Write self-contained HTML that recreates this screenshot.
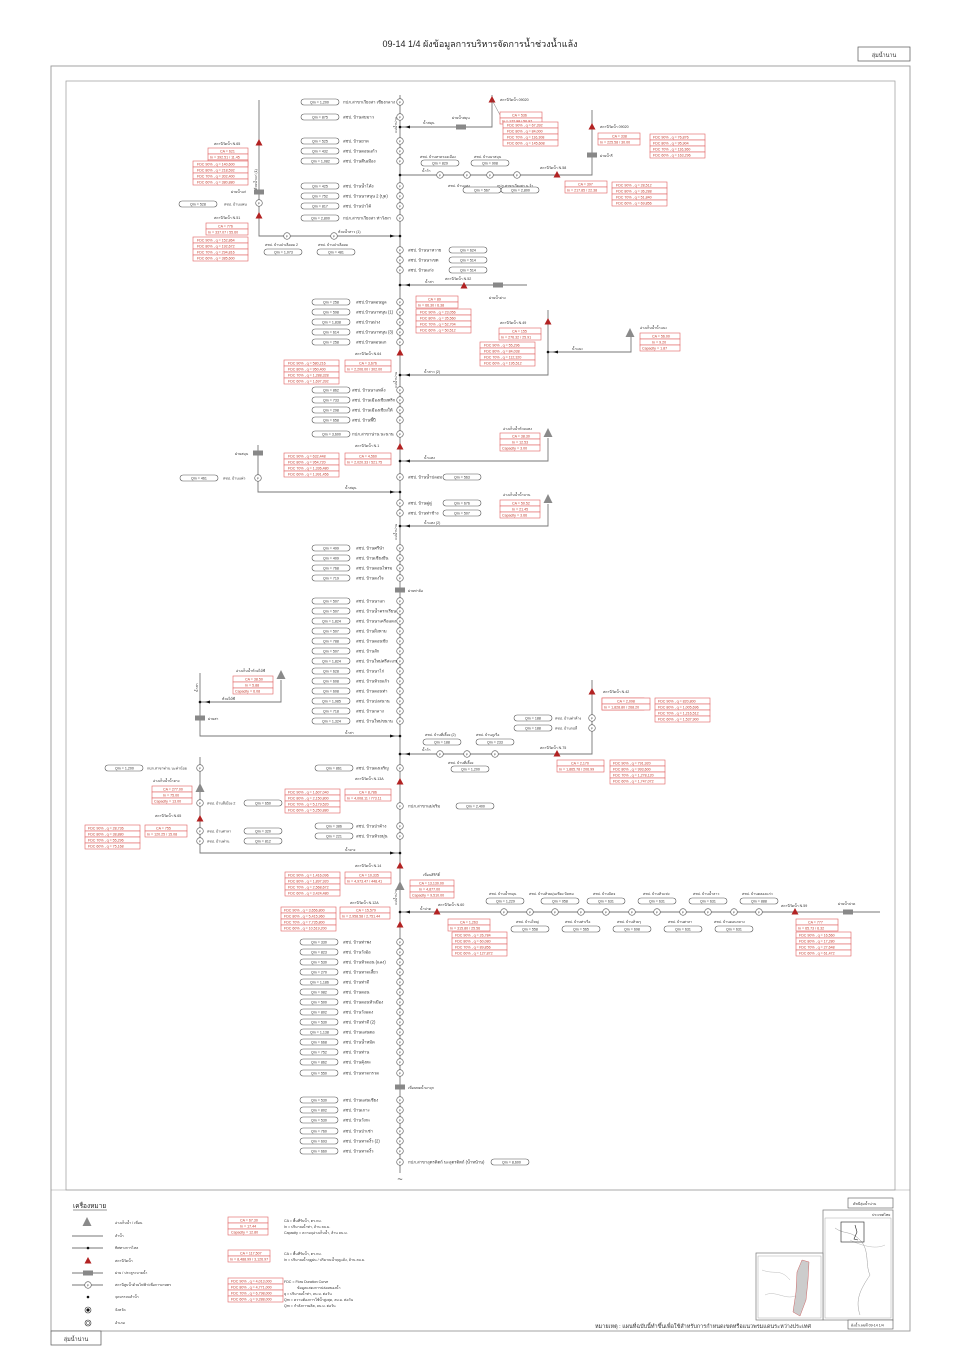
<!DOCTYPE html>
<html><head><meta charset="utf-8">
<style>
html,body{margin:0;padding:0;background:#fff}
svg{display:block}
text{font-family:"Liberation Sans","DejaVu Sans","Noto Sans CJK SC",sans-serif;fill:#333}
.t{font-size:4.2px}
.s{font-size:3.6px}
.r{font-size:3.6px;fill:#c0392b}
.ln{stroke:#777;stroke-width:0.9;fill:none}
.bx{fill:#fff;stroke:#555;stroke-width:0.6}
.rb{fill:#fff;stroke:#e06060;stroke-width:0.6}
.c{fill:#fff;stroke:#555;stroke-width:0.6}
.g{fill:#888}
.tr{fill:#b22222}
.gt{fill:#888}
</style></head><body>
<svg width="960" height="1357" viewBox="0 0 960 1357" xmlns="http://www.w3.org/2000/svg">
<defs>
<g id="q"><rect class="bx" x="-19" y="-3" width="38" height="6" rx="3"/></g>
<g id="p"><circle class="c" r="3.3"/><text class="s" x="-1.1" y="1.3" style="font-size:3px">P</text></g>
<g id="rt"><polygon class="tr" points="0,-4 3.5,2.5 -3.5,2.5"/></g>
<g id="gtri"><polygon fill="#8a8a8a" points="0,-5 4.5,4 -4.5,4"/></g>
<g id="gate"><rect class="gt" x="-5" y="-2.5" width="10" height="5"/></g>
<g id="dot"><circle r="1.3" fill="#111"/></g>
<g id="fdc"><rect class="rb" x="0" y="0" width="55" height="6"/><rect class="rb" x="0" y="6" width="55" height="6"/><rect class="rb" x="0" y="12" width="55" height="6"/><rect class="rb" x="0" y="18" width="55" height="6"/></g>
<g id="ca2"><rect class="rb" x="0" y="0" width="42" height="6"/><rect class="rb" x="0" y="6" width="42" height="6"/></g>
<g id="ca3"><rect class="rb" x="0" y="0" width="40" height="6"/><rect class="rb" x="0" y="6" width="40" height="6"/><rect class="rb" x="0" y="12" width="40" height="6"/></g>
</defs>

<!-- title -->
<text x="480" y="47" text-anchor="middle" style="font-size:9px;fill:#222">09-14 1/4 ผังข้อมูลการบริหารจัดการน้ำช่วงน้ำแล้ง</text>
<rect x="858" y="47" width="52" height="14" fill="#fff" stroke="#555" stroke-width="0.7"/>
<text x="884" y="57" text-anchor="middle" style="font-size:5.5px">ลุ่มน้ำนาน</text>

<!-- frames -->
<rect x="51" y="66" width="859" height="1265" fill="none" stroke="#999" stroke-width="0.9"/>
<rect x="66" y="81" width="829" height="1109" fill="none" stroke="#999" stroke-width="0.7"/>
<line x1="51" y1="1190" x2="910" y2="1190" stroke="#999" stroke-width="0.6"/>

<!-- main river -->
<line class="ln" x1="400" y1="95" x2="400" y2="1173"/>
<text x="400" y="1182" text-anchor="middle" style="font-size:9px">~</text>
<text class="s" transform="translate(397,133) rotate(-90)">แม่น้ำน่าน</text>
<text class="s" transform="translate(397,388) rotate(-90)">แม่น้ำน่าน</text>
<text class="s" transform="translate(397,540) rotate(-90)">แม่น้ำน่าน</text>
<text class="s" transform="translate(397,905) rotate(-90)">แม่น้ำน่าน</text>

<!-- left rows top -->
<g class="t">
<use href="#q" x="320" y="102"/><text class="s" x="310" y="103.5">Qm = 1,200</text><text x="343" y="103.5">กปภ.สาขาเวียงสา เชียงกลาง</text><use href="#p" x="400" y="102"/>
<use href="#q" x="320" y="117"/><text class="s" x="312" y="118.5">Qm = 875</text><text x="343" y="118.5">สชป. บ้านสบมาว</text><use href="#p" x="400" y="117"/>
<use href="#q" x="320" y="141"/><text class="s" x="312" y="142.5">Qm = 525</text><text x="343" y="142.5">สชป. บ้านยาด</text><use href="#p" x="400" y="141"/>
<use href="#q" x="320" y="151"/><text class="s" x="312" y="152.5">Qm = 432</text><text x="343" y="152.5">สชป. บ้านดอนแก้ว</text><use href="#p" x="400" y="151"/>
<use href="#q" x="320" y="161"/><text class="s" x="311" y="162.5">Qm = 1,082</text><text x="343" y="162.5">สชป. บ้านตีนเมือง</text><use href="#p" x="400" y="161"/>
<use href="#q" x="320" y="186"/><text class="s" x="312" y="187.5">Qm = 425</text><text x="343" y="187.5">สชป. บ้านน้ำโค้ง</text><use href="#p" x="400" y="186"/>
<use href="#q" x="320" y="196"/><text class="s" x="312" y="197.5">Qm = 752</text><text x="343" y="197.5">สชป. บ้านนาหนุน 2 (บุด)</text><use href="#p" x="400" y="196"/>
<use href="#q" x="320" y="206"/><text class="s" x="312" y="207.5">Qm = 817</text><text x="343" y="207.5">สชป. บ้านป่าไค้</text><use href="#p" x="400" y="206"/>
<use href="#q" x="320" y="218"/><text class="s" x="311" y="219.5">Qm = 2,800</text><text x="343" y="219.5">กปภ.สาขาเวียงสา ท่าวังผา</text><use href="#p" x="400" y="218"/>
</g>

<!-- branch y127 right -->
<polyline class="ln" points="400,127 492,127 492,95"/>
<use href="#dot" x="400" y="127"/>
<polygon points="405,127 410,125.5 410,128.5" fill="#111"/>
<use href="#gate" x="461" y="127"/>
<text class="s" x="423" y="124">น้ำสมุน</text><text class="s" x="452" y="119">ฝายน้ำสมุน</text>
<use href="#rt" x="492" y="100"/>
<text class="s" x="500" y="101">สถานีวัดน้ำ 09020</text>
<line x1="492" y1="100" x2="500" y2="115" stroke="#555" stroke-width="0.4"/>
<use href="#ca2" x="500" y="112"/><text class="r" x="512" y="116.5">CA = 536</text><text class="r" x="502" y="122.5">In = 172.98 / 50.97</text>
<use href="#fdc" x="503" y="122"/>
<text class="r" x="507" y="126.5">FDC 90% , q = 67,392</text><text class="r" x="507" y="132.5">FDC 80% , q = 84,000</text><text class="r" x="507" y="138.5">FDC 70% , q = 116,308</text><text class="r" x="507" y="144.5">FDC 60% , q = 145,608</text>

<!-- branch y175 right -->
<polyline class="ln" points="400,175 592,175 592,110"/>
<use href="#dot" x="400" y="175"/>
<text class="s" x="422" y="172">น้ำว้า</text>
<use href="#p" x="440" y="175"/><use href="#p" x="467" y="175"/><use href="#p" x="490" y="175"/><use href="#p" x="517" y="175"/>
<text class="s" x="420" y="158">สชป. บ้านหาดรองเมือง</text><use href="#q" x="440" y="163"/><text class="s" x="432" y="164.5">Qm = 829</text>
<text class="s" x="474" y="158">สชป. บ้านนาสมุน</text><use href="#q" x="490" y="163"/><text class="s" x="482" y="164.5">Qm = 908</text>
<text class="s" x="448" y="187">สชป. บ้านแสง</text><use href="#q" x="482" y="190"/><text class="s" x="474" y="191.5">Qm = 567</text>
<text class="s" x="497" y="187">กปภ.สาขาเวียงสา น.ว้า</text><use href="#q" x="520" y="190"/><text class="s" x="511" y="191.5">Qm = 2,800</text>
<use href="#rt" x="557" y="175"/>
<text class="s" x="540" y="169">สถานีวัดน้ำ N.58</text>
<use href="#ca2" x="565" y="181"/><text class="r" x="578" y="185.5">CA = 397</text><text class="r" x="567" y="191.5">In = 217.85 / 22.38</text>
<use href="#fdc" x="612" y="182"/><text class="r" x="616" y="186.5">FDC 90% , q = 28,512</text><text class="r" x="616" y="192.5">FDC 80% , q = 36,288</text><text class="r" x="616" y="198.5">FDC 70% , q = 51,840</text><text class="r" x="616" y="204.5">FDC 60% , q = 69,856</text>
<use href="#rt" x="592" y="127"/>
<text class="s" x="600" y="128">สถานีวัดน้ำ 09020</text>
<use href="#ca2" x="598" y="133"/><text class="r" x="612" y="137.5">CA = 338</text><text class="r" x="600" y="143.5">In = 225.58 / 30.00</text>
<use href="#fdc" x="650" y="134"/><text class="r" x="653" y="138.5">FDC 90% , q = 76,876</text><text class="r" x="653" y="144.5">FDC 80% , q = 95,904</text><text class="r" x="653" y="150.5">FDC 70% , q = 116,360</text><text class="r" x="653" y="156.5">FDC 60% , q = 163,296</text>
<use href="#gate" x="592" y="155"/><text class="s" x="600" y="157">ฝายน้ำรี</text>

<!-- left branch y236 -->
<polyline class="ln" points="400,236 259,236 259,100"/>
<use href="#dot" x="400" y="236"/>
<polygon points="395,236 390,234.5 390,237.5" fill="#111"/>
<text class="s" x="338" y="233">ห้วยน้ำสาว (1)</text>
<use href="#p" x="287" y="236"/><use href="#p" x="334" y="236"/>
<text class="s" x="265" y="246">สชป. บ้านป่าเลือยม 2</text><use href="#q" x="283" y="252"/><text class="s" x="274" y="253.5">Qm = 1,073</text>
<text class="s" x="318" y="246">สชป. บ้านป่าเลือยม</text><use href="#q" x="336" y="252"/><text class="s" x="328" y="253.5">Qm = 481</text>
<text class="s" transform="translate(257,190) rotate(-90)">ห้วยน้ำแก่ (1)</text>
<use href="#rt" x="259" y="143"/><text class="s" x="214" y="145">สถานีวัดน้ำ N.65</text>
<use href="#ca3" x="208" y="148"/><text class="r" x="220" y="152.5">CA = 621</text><text class="r" x="210" y="158.5">In = 392.51 / 11.45</text>
<use href="#fdc" x="193" y="161"/><text class="r" x="197" y="165.5">FDC 90% , q = 140,600</text><text class="r" x="197" y="171.5">FDC 80% , q = 218,592</text><text class="r" x="197" y="177.5">FDC 70% , q = 302,400</text><text class="r" x="197" y="183.5">FDC 60% , q = 380,880</text>
<use href="#gate" x="259" y="192"/><text class="s" x="231" y="193">ฝายน้ำแก่</text>
<use href="#p" x="259" y="203"/>
<use href="#q" x="198" y="204"/><text class="s" x="190" y="205.5">Qm = 528</text><text class="s" x="224" y="205.5">สชป. บ้านแพน</text>
<use href="#rt" x="259" y="216"/><text class="s" x="214" y="219">สถานีวัดน้ำ N.51</text>
<use href="#ca2" x="206" y="223"/><text class="r" x="218" y="227.5">CA = 776</text><text class="r" x="208" y="233.5">In = 337.07 / 55.60</text>
<use href="#fdc" x="193" y="237"/><text class="r" x="197" y="241.5">FDC 90% , q = 152,864</text><text class="r" x="197" y="247.5">FDC 80% , q = 192,672</text><text class="r" x="197" y="253.5">FDC 70% , q = 294,816</text><text class="r" x="197" y="259.5">FDC 60% , q = 385,600</text>

<!-- right rows -->
<g class="t">
<use href="#p" x="400" y="250"/><text x="408" y="251.5">สชป. บ้านนาหวาย</text><use href="#q" x="468" y="250"/><text class="s" x="460" y="251.5">Qm = 624</text>
<use href="#p" x="400" y="260"/><text x="408" y="261.5">สชป. บ้านนาเขต</text><use href="#q" x="468" y="260"/><text class="s" x="460" y="261.5">Qm = 514</text>
<use href="#p" x="400" y="270"/><text x="408" y="271.5">สชป. บ้านแก่ง</text><use href="#q" x="468" y="270"/><text class="s" x="460" y="271.5">Qm = 514</text>
</g>

<!-- branch y285 -->
<polyline class="ln" points="400,285 527,285"/>
<use href="#dot" x="400" y="285"/><polygon points="405,285 410,283.5 410,286.5" fill="#111"/>
<text class="s" x="425" y="283">น้ำสา</text>
<use href="#rt" x="464" y="286"/><text class="s" x="445" y="280">สถานีวัดน้ำ N.52</text>
<use href="#gate" x="498" y="285"/><text class="s" x="489" y="299">ฝายน้ำย่าง</text>
<use href="#ca2" x="416" y="296"/><text class="r" x="428" y="300.5">CA = 89</text><text class="r" x="418" y="306.5">In = 66.30 / 6.38</text>
<use href="#fdc" x="416" y="309"/><text class="r" x="420" y="313.5">FDC 90% , q = 23,056</text><text class="r" x="420" y="319.5">FDC 80% , q = 35,560</text><text class="r" x="420" y="325.5">FDC 70% , q = 52,704</text><text class="r" x="420" y="331.5">FDC 60% , q = 50,512</text>

<g class="t">
<use href="#q" x="331" y="302"/><text class="s" x="323" y="303.5">Qm = 258</text><text x="356" y="303.5">สชป.บ้านดอนมูล</text><use href="#p" x="400" y="302"/>
<use href="#q" x="331" y="312"/><text class="s" x="323" y="313.5">Qm = 598</text><text x="356" y="313.5">สชป.บ้านนาหนุน (1)</text><use href="#p" x="400" y="312"/>
<use href="#q" x="331" y="322"/><text class="s" x="322" y="323.5">Qm = 1,838</text><text x="356" y="323.5">สชป.บ้านม่วง</text><use href="#p" x="400" y="322"/>
<use href="#q" x="331" y="332"/><text class="s" x="323" y="333.5">Qm = 614</text><text x="356" y="333.5">สชป.บ้านนาหนุน (3)</text><use href="#p" x="400" y="332"/>
<use href="#q" x="331" y="342"/><text class="s" x="323" y="343.5">Qm = 258</text><text x="356" y="343.5">สชป.บ้านดอนแก</text><use href="#p" x="400" y="342"/>
</g>
<use href="#rt" x="400" y="353"/><text class="s" x="355" y="355">สถานีวัดน้ำ N.64</text>
<use href="#fdc" x="284" y="360"/><text class="r" x="288" y="364.5">FDC 90% , q = 580,216</text><text class="r" x="288" y="370.5">FDC 80% , q = 950,400</text><text class="r" x="288" y="376.5">FDC 70% , q = 1,288,328</text><text class="r" x="288" y="382.5">FDC 60% , q = 1,697,392</text>
<rect class="rb" x="345" y="360" width="46" height="6"/><rect class="rb" x="345" y="366" width="46" height="6"/>
<text class="r" x="359" y="364.5">CA = 3,676</text><text class="r" x="347" y="370.5">In = 2,206.00 / 302.00</text>

<!-- branch y372 & y352 -->
<polyline class="ln" points="400,375 548,375 548,310"/>
<use href="#dot" x="400" y="375"/><polygon points="405,375 410,373.5 410,376.5" fill="#111"/>
<text class="s" x="424" y="373">น้ำสาว (2)</text>
<use href="#rt" x="548" y="322"/><text class="s" x="500" y="324">สถานีวัดน้ำ N.49</text>
<use href="#ca2" x="499" y="328"/><text class="r" x="512" y="332.5">CA = 155</text><text class="r" x="501" y="338.5">In = 276.32 / 25.91</text>
<use href="#fdc" x="480" y="342"/><text class="r" x="484" y="346.5">FDC 90% , q = 55,296</text><text class="r" x="484" y="352.5">FDC 80% , q = 84,038</text><text class="r" x="484" y="358.5">FDC 70% , q = 112,320</text><text class="r" x="484" y="364.5">FDC 60% , q = 195,512</text>
<polyline class="ln" points="548,352 631,352 631,335"/>
<use href="#dot" x="548" y="352"/><polygon points="553,352 558,350.5 558,353.5" fill="#111"/>
<text class="s" x="572" y="350">น้ำแนะ</text>
<use href="#gtri" x="630" y="333"/>
<text class="s" x="640" y="329">อ่างเก็บน้ำน้ำแนะ</text>
<use href="#ca3" x="640" y="333"/><text class="r" x="652" y="337.5">CA = 56.00</text><text class="r" x="652" y="343.5">In = 9.20</text><text class="r" x="642" y="349.5">Capacity = 1.87</text>

<g class="t">
<use href="#q" x="331" y="390"/><text class="s" x="323" y="391.5">Qm = 862</text><text x="352" y="391.5">สชป. บ้านนาแหลิ่ง</text><use href="#p" x="400" y="390"/>
<use href="#q" x="331" y="400"/><text class="s" x="323" y="401.5">Qm = 733</text><text x="352" y="401.5">สชป. บ้านเมืองเชียงพริก</text><use href="#p" x="400" y="400"/>
<use href="#q" x="331" y="410"/><text class="s" x="323" y="411.5">Qm = 298</text><text x="352" y="411.5">สชป. บ้านเมืองเชียงใต้</text><use href="#p" x="400" y="410"/>
<use href="#q" x="331" y="420"/><text class="s" x="323" y="421.5">Qm = 658</text><text x="352" y="421.5">สชป. บ้านพี้ปี</text><use href="#p" x="400" y="420"/>
<use href="#q" x="331" y="434"/><text class="s" x="322" y="435.5">Qm = 3,600</text><text x="352" y="435.5">กปภ.สาขาน่าน นะนาน</text><use href="#p" x="400" y="434"/>
</g>
<use href="#rt" x="400" y="447"/><text class="s" x="355" y="447">สถานีวัดน้ำ N.1</text>
<use href="#fdc" x="284" y="453"/><text class="r" x="288" y="457.5">FDC 90% , q = 632,448</text><text class="r" x="288" y="463.5">FDC 80% , q = 954,720</text><text class="r" x="288" y="469.5">FDC 70% , q = 1,336,480</text><text class="r" x="288" y="475.5">FDC 60% , q = 1,991,456</text>
<rect class="rb" x="345" y="453" width="46" height="6"/><rect class="rb" x="345" y="459" width="46" height="6"/>
<text class="r" x="359" y="457.5">CA = 4,560</text><text class="r" x="347" y="463.5">In = 2,020.33 / 521.75</text>

<polyline class="ln" points="400,461 548,461 548,438"/>
<use href="#dot" x="400" y="461"/><polygon points="405,461 410,459.5 410,462.5" fill="#111"/>
<text class="s" x="424" y="459">น้ำแหง</text>
<use href="#gtri" x="548" y="433"/>
<text class="s" x="503" y="430">อ่างเก็บน้ำห้วยแหง</text>
<use href="#ca3" x="500" y="433"/><text class="r" x="512" y="437.5">CA = 38.30</text><text class="r" x="512" y="443.5">In = 12.53</text><text class="r" x="502" y="449.5">Capacity = 3.00</text>

<polyline class="ln" points="258,445 258,492 400,492"/>
<use href="#gate" x="258" y="453"/><text class="s" x="235" y="455">ฝ่ายสมุน</text>
<use href="#p" x="258" y="478"/>
<use href="#q" x="199" y="478"/><text class="s" x="191" y="479.5">Qm = 461</text><text class="s" x="223" y="479.5">สชป. บ้านแพ่ว</text>
<text class="s" x="345" y="489">น้ำสมุน</text>
<use href="#dot" x="400" y="492"/><polygon points="395,492 390,490.5 390,493.5" fill="#111"/>

<g class="t">
<use href="#p" x="400" y="477"/><text x="408" y="478.5">สชป. บ้านน้ำปลอม</text><use href="#q" x="462" y="477"/><text class="s" x="454" y="478.5">Qm = 563</text>
<use href="#p" x="400" y="503"/><text x="408" y="504.5">สชป. บ้านคู่ดู่</text><use href="#q" x="462" y="503"/><text class="s" x="454" y="504.5">Qm = 676</text>
<use href="#p" x="400" y="513"/><text x="408" y="514.5">สชป. บ้านท่าช้าง</text><use href="#q" x="462" y="513"/><text class="s" x="454" y="514.5">Qm = 507</text>
</g>
<polyline class="ln" points="400,526 548,526 548,504"/>
<use href="#dot" x="400" y="526"/><polygon points="405,526 410,524.5 410,527.5" fill="#111"/>
<text class="s" x="424" y="524">น้ำแหง (2)</text>
<use href="#gtri" x="548" y="499"/>
<text class="s" x="503" y="496">อ่างเก็บน้ำน้ำบาน</text>
<use href="#ca3" x="500" y="500"/><text class="r" x="512" y="504.5">CA = 50.52</text><text class="r" x="512" y="510.5">In = 21.45</text><text class="r" x="502" y="516.5">Capacity = 3.66</text>

<g class="t">
<use href="#q" x="331" y="548"/><text class="s" x="323" y="549.5">Qm = 499</text><text x="356" y="549.5">สชป. บ้านศรีนำ</text><use href="#p" x="400" y="548"/>
<use href="#q" x="331" y="558"/><text class="s" x="323" y="559.5">Qm = 409</text><text x="356" y="559.5">สชป. บ้านเชียงยืน</text><use href="#p" x="400" y="558"/>
<use href="#q" x="331" y="568"/><text class="s" x="323" y="569.5">Qm = 768</text><text x="356" y="569.5">สชป. บ้านดอนไพรม</text><use href="#p" x="400" y="568"/>
<use href="#q" x="331" y="578"/><text class="s" x="323" y="579.5">Qm = 719</text><text x="356" y="579.5">สชป. บ้านดงใจ</text><use href="#p" x="400" y="578"/>
</g>
<use href="#gate" x="400" y="590"/><text class="s" x="408" y="592">ฝายท่าล้อ</text>

<g class="t">
<use href="#q" x="331" y="601"/><text class="s" x="323" y="602.5">Qm = 507</text><text x="356" y="602.5">สชป. บ้านนาแก</text><use href="#p" x="400" y="601"/>
<use href="#q" x="331" y="611"/><text class="s" x="323" y="612.5">Qm = 507</text><text x="356" y="612.5">สชป. บ้านน้ำครกเรียน</text><use href="#p" x="400" y="611"/>
<use href="#q" x="331" y="621"/><text class="s" x="322" y="622.5">Qm = 1,824</text><text x="356" y="622.5">สชป. บ้านนาเครือแดง</text><use href="#p" x="400" y="621"/>
<use href="#q" x="331" y="631"/><text class="s" x="323" y="632.5">Qm = 507</text><text x="356" y="632.5">สชป. บ้านฝั่งหาม</text><use href="#p" x="400" y="631"/>
<use href="#q" x="331" y="641"/><text class="s" x="323" y="642.5">Qm = 788</text><text x="356" y="642.5">สชป. บ้านดอนชัย</text><use href="#p" x="400" y="641"/>
<use href="#q" x="331" y="651"/><text class="s" x="323" y="652.5">Qm = 507</text><text x="356" y="652.5">สชป. บ้านสัก</text><use href="#p" x="400" y="651"/>
<use href="#q" x="331" y="661"/><text class="s" x="322" y="662.5">Qm = 1,824</text><text x="356" y="662.5">สชป. บ้านใหม่ศรีสะเกษ</text><use href="#p" x="400" y="661"/>
<use href="#q" x="331" y="671"/><text class="s" x="323" y="672.5">Qm = 628</text><text x="356" y="672.5">สชป. บ้านนาไก่</text><use href="#p" x="400" y="671"/>
<use href="#q" x="331" y="681"/><text class="s" x="323" y="682.5">Qm = 608</text><text x="356" y="682.5">สชป. บ้านห้วยแก้ว</text><use href="#p" x="400" y="681"/>
<use href="#q" x="331" y="691"/><text class="s" x="323" y="692.5">Qm = 608</text><text x="356" y="692.5">สชป. บ้านดอนท่า</text><use href="#p" x="400" y="691"/>
<use href="#q" x="331" y="701"/><text class="s" x="322" y="702.5">Qm = 1,985</text><text x="356" y="702.5">สชป. บ้านปงสนาน</text><use href="#p" x="400" y="701"/>
<use href="#q" x="331" y="711"/><text class="s" x="323" y="712.5">Qm = 718</text><text x="356" y="712.5">สชป. บ้านกลาง</text><use href="#p" x="400" y="711"/>
<use href="#q" x="331" y="721"/><text class="s" x="322" y="722.5">Qm = 1,324</text><text x="356" y="722.5">สชป. บ้านใหม่ขนาน</text><use href="#p" x="400" y="721"/>
</g>

<!-- left system y736 -->
<polyline class="ln" points="200,673 200,736 400,736"/>
<polyline class="ln" points="200,702 281,702 281,680"/>
<use href="#dot" x="200" y="702"/><polygon points="205,702 210,700.5 210,703.5" fill="#111"/>
<use href="#gtri" x="281" y="675"/>
<text class="s" x="236" y="672">อ่างเก็บน้ำห้วยไม้ซี</text>
<use href="#ca3" x="233" y="676"/><text class="r" x="245" y="680.5">CA = 38.50</text><text class="r" x="245" y="686.5">In = 5.88</text><text class="r" x="235" y="692.5">Capacity = 6.08</text>
<text class="s" x="222" y="700">ห้วยไม้ซี</text>
<text class="s" transform="translate(198,692) rotate(-90)">น้ำสา</text>
<use href="#gate" x="200" y="718"/><text class="s" x="208" y="720">ฝายสา</text>
<text class="s" x="345" y="734">น้ำสา</text>
<use href="#dot" x="400" y="736"/><polygon points="395,736 390,734.5 390,737.5" fill="#111"/>

<!-- right branch y754 -->
<polyline class="ln" points="400,754 592,754 592,680"/>
<use href="#dot" x="400" y="754"/><polygon points="405,754 410,752.5 410,755.5" fill="#111"/>
<text class="s" x="422" y="751">น้ำว้า</text>
<use href="#p" x="440" y="754"/><use href="#p" x="467" y="754"/><use href="#p" x="495" y="754"/>
<text class="s" x="425" y="736">สชป. บ้านที่เลี้ยง (2)</text><use href="#q" x="442" y="742"/><text class="s" x="434" y="743.5">Qm = 188</text>
<text class="s" x="476" y="736">สชป. บ้านภูเรือ</text><use href="#q" x="495" y="742"/><text class="s" x="487" y="743.5">Qm = 233</text>
<text class="s" x="448" y="764">สชป. บ้านที่เลี้ยง</text><use href="#q" x="470" y="769"/><text class="s" x="461" y="770.5">Qm = 1,200</text>
<use href="#p" x="592" y="718"/><use href="#q" x="533" y="718"/><text class="s" x="525" y="719.5">Qm = 188</text><text class="s" x="555" y="719.5">สชป. บ้านท่าค้าง</text>
<use href="#p" x="592" y="728"/><use href="#q" x="533" y="728"/><text class="s" x="525" y="729.5">Qm = 188</text><text class="s" x="555" y="729.5">สชป. บ้านกอลี่</text>
<use href="#rt" x="592" y="692"/><text class="s" x="603" y="693">สถานีวัดน้ำ N.42</text>
<use href="#ca2" x="602" y="698"/><rect class="rb" x="602" y="698" width="48" height="6"/><rect class="rb" x="602" y="704" width="48" height="6"/>
<text class="r" x="617" y="702.5">CA = 2,098</text><text class="r" x="604" y="708.5">In = 1,828.80 / 268.20</text>
<use href="#fdc" x="655" y="698"/><text class="r" x="658" y="702.5">FDC 90% , q = 820,800</text><text class="r" x="658" y="708.5">FDC 80% , q = 1,005,696</text><text class="r" x="658" y="714.5">FDC 70% , q = 1,216,512</text><text class="r" x="658" y="720.5">FDC 60% , q = 1,537,900</text>
<use href="#rt" x="557" y="754"/><text class="s" x="540" y="749">สถานีวัดน้ำ N.75</text>
<rect class="rb" x="557" y="760" width="47" height="6"/><rect class="rb" x="557" y="766" width="47" height="6"/>
<text class="r" x="571" y="764.5">CA = 2,170</text><text class="r" x="559" y="770.5">In = 1,865.78 / 206.99</text>
<use href="#fdc" x="610" y="760"/><text class="r" x="613" y="764.5">FDC 90% , q = 791,920</text><text class="r" x="613" y="770.5">FDC 80% , q = 993,600</text><text class="r" x="613" y="776.5">FDC 70% , q = 1,278,120</text><text class="r" x="613" y="782.5">FDC 60% , q = 1,747,072</text>

<use href="#q" x="334" y="768"/><text class="s" x="326" y="769.5">Qm = 861</text><text class="t" x="356" y="769.5">สชป. บ้านดงเจริญ</text><use href="#p" x="400" y="768"/>
<use href="#rt" x="400" y="782"/><text class="s" x="355" y="780">สถานีวัดน้ำ N.13A</text>
<use href="#fdc" x="285" y="789"/><text class="r" x="288" y="793.5">FDC 90% , q = 1,607,040</text><text class="r" x="288" y="799.5">FDC 80% , q = 2,150,800</text><text class="r" x="288" y="805.5">FDC 70% , q = 5,179,520</text><text class="r" x="288" y="811.5">FDC 60% , q = 5,250,880</text>
<rect class="rb" x="345" y="789" width="46" height="6"/><rect class="rb" x="345" y="795" width="46" height="6"/>
<text class="r" x="359" y="793.5">CA = 8,786</text><text class="r" x="347" y="799.5">In = 4,008.11 / 773.11</text>
<use href="#p" x="400" y="806"/><text class="t" x="408" y="807.5">กปภ.สาขาแม่จริม</text><use href="#q" x="475" y="806"/><text class="s" x="466" y="807.5">Qm = 2,400</text>
<use href="#q" x="334" y="826"/><text class="s" x="326" y="827.5">Qm = 386</text><text class="t" x="356" y="827.5">สชป. บ้านป่าค้าง</text><use href="#p" x="400" y="826"/>
<use href="#q" x="334" y="836"/><text class="s" x="326" y="837.5">Qm = 221</text><text class="t" x="356" y="837.5">สชป. บ้านห้วยมุ่น</text><use href="#p" x="400" y="836"/>

<!-- left system y853 -->
<polyline class="ln" points="200,757 200,853 400,853"/>
<use href="#p" x="200" y="768"/><use href="#q" x="124" y="768"/><text class="s" x="115" y="769.5">Qm = 1,200</text><text class="s" x="147" y="769.5">กปภ.สาขาท่าน นะท่าน้อย</text>
<use href="#gtri" x="200" y="788"/>
<text class="s" x="153" y="782">อ่างเก็บน้ำน้ำยาง</text>
<use href="#ca3" x="152" y="786"/><text class="r" x="163" y="790.5">CA = 277.00</text><text class="r" x="163" y="796.5">In = 75.00</text><text class="r" x="154" y="802.5">Capacity = 13.00</text>
<use href="#p" x="200" y="803"/><text class="s" x="207" y="804.5">สชป. บ้านสีเมือง 2</text><use href="#q" x="263" y="803"/><text class="s" x="255" y="804.5">Qm = 650</text>
<use href="#rt" x="200" y="819"/><text class="s" x="155" y="817">สถานีวัดน้ำ N.65</text>
<use href="#fdc" x="85" y="825"/><text class="r" x="88" y="829.5">FDC 90% , q = 28,736</text><text class="r" x="88" y="835.5">FDC 80% , q = 38,880</text><text class="r" x="88" y="841.5">FDC 70% , q = 55,296</text><text class="r" x="88" y="847.5">FDC 60% , q = 75,168</text>
<use href="#ca2" x="145" y="825"/><text class="r" x="156" y="829.5">CA = 755</text><text class="r" x="147" y="835.5">In = 120.25 / 15.08</text>
<use href="#p" x="200" y="831"/><text class="s" x="207" y="832.5">สชป. บ้านศาลา</text><use href="#q" x="263" y="831"/><text class="s" x="255" y="832.5">Qm = 320</text>
<use href="#p" x="200" y="841"/><text class="s" x="207" y="842.5">สชป. บ้านท่าน</text><use href="#q" x="263" y="841"/><text class="s" x="255" y="842.5">Qm = 812</text>
<text class="s" x="345" y="851">น้ำยาง</text>
<use href="#dot" x="400" y="853"/><polygon points="395,853 390,851.5 390,854.5" fill="#111"/>

<!-- Sirikit -->
<use href="#rt" x="400" y="866"/><text class="s" x="355" y="867">สถานีวัดน้ำ N.14</text>
<use href="#fdc" x="285" y="872"/><text class="r" x="288" y="876.5">FDC 90% , q = 1,416,096</text><text class="r" x="288" y="882.5">FDC 80% , q = 1,897,920</text><text class="r" x="288" y="888.5">FDC 70% , q = 2,568,672</text><text class="r" x="288" y="894.5">FDC 60% , q = 3,424,480</text>
<rect class="rb" x="345" y="872" width="46" height="6"/><rect class="rb" x="345" y="878" width="46" height="6"/>
<text class="r" x="359" y="876.5">CA = 10,335</text><text class="r" x="347" y="882.5">In = 4,973.47 / 448.41</text>
<use href="#gtri" x="400" y="886"/>
<text class="s" x="423" y="876">เขื่อนสิริกิติ์</text>
<rect class="rb" x="410" y="880" width="44" height="6"/><rect class="rb" x="410" y="886" width="44" height="6"/><rect class="rb" x="410" y="892" width="44" height="6"/>
<text class="r" x="419" y="884.5">CA = 13,130.00</text><text class="r" x="419" y="890.5">In = 4,877.00</text><text class="r" x="412" y="896.5">Capacity = 9,510.00</text>
<text class="s" x="350" y="904">สถานีวัดน้ำ N.12A</text>
<use href="#fdc" x="281" y="907"/><text class="r" x="284" y="911.5">FDC 90% , q = 3,656,800</text><text class="r" x="284" y="917.5">FDC 80% , q = 5,415,960</text><text class="r" x="284" y="923.5">FDC 70% , q = 7,735,800</text><text class="r" x="284" y="929.5">FDC 60% , q = 10,519,200</text>
<rect class="rb" x="340" y="907" width="50" height="6"/><rect class="rb" x="340" y="913" width="50" height="6"/>
<text class="r" x="356" y="911.5">CA = 15,579</text><text class="r" x="342" y="917.5">In = 2,958.58 / 2,751.44</text>
<use href="#rt" x="400" y="925"/>

<!-- long branch y912 -->
<polyline class="ln" points="400,912 880,912"/>
<use href="#dot" x="400" y="912"/><polygon points="405,912 410,910.5 410,913.5" fill="#111"/>
<text class="s" x="420" y="910">น้ำปาด</text>
<use href="#rt" x="437" y="912"/><text class="s" x="438" y="906">สถานีวัดน้ำ N.60</text>
<use href="#ca2" x="448" y="919"/><text class="r" x="460" y="923.5">CA = 1,263</text><text class="r" x="450" y="929.5">In = 315.80 / 25.56</text>
<use href="#fdc" x="452" y="932"/><text class="r" x="455" y="936.5">FDC 90% , q = 26,784</text><text class="r" x="455" y="942.5">FDC 80% , q = 60,080</text><text class="r" x="455" y="948.5">FDC 70% , q = 89,856</text><text class="r" x="455" y="954.5">FDC 60% , q = 127,872</text>
<g>
<use href="#p" x="504" y="912"/><use href="#p" x="530" y="912"/><use href="#p" x="555" y="912"/><use href="#p" x="581" y="912"/><use href="#p" x="606" y="912"/><use href="#p" x="632" y="912"/><use href="#p" x="657" y="912"/><use href="#p" x="683" y="912"/><use href="#p" x="708" y="912"/><use href="#p" x="734" y="912"/><use href="#p" x="759" y="912"/>
</g>
<text class="s" x="489" y="895">สชป. บ้านน้ำหมุน</text><use href="#q" x="505" y="901"/><text class="s" x="496" y="902.5">Qm = 1,229</text>
<text class="s" x="529" y="895">สชป. บ้านห้วยมุ่นเชียง บิลหม</text><use href="#q" x="560" y="901"/><text class="s" x="552" y="902.5">Qm = 958</text>
<text class="s" x="593" y="895">สชป. บ้านบิดจ</text><use href="#q" x="606" y="901"/><text class="s" x="598" y="902.5">Qm = 631</text>
<text class="s" x="643" y="895">สชป. บ้านหัวแห่ง</text><use href="#q" x="657" y="901"/><text class="s" x="649" y="902.5">Qm = 631</text>
<text class="s" x="693" y="895">สชป. บ้านน้ำลาว</text><use href="#q" x="708" y="901"/><text class="s" x="700" y="902.5">Qm = 631</text>
<text class="s" x="742" y="895">สชป. บ้านคลองแก่ว</text><use href="#q" x="759" y="901"/><text class="s" x="751" y="902.5">Qm = 888</text>
<text class="s" x="516" y="923">สชป. บ้านใหญ่</text><use href="#q" x="530" y="929"/><text class="s" x="522" y="930.5">Qm = 558</text>
<text class="s" x="565" y="923">สชป. บ้านท่าเรือ</text><use href="#q" x="581" y="929"/><text class="s" x="573" y="930.5">Qm = 565</text>
<text class="s" x="617" y="923">สชป. บ้านห้วยรุ</text><use href="#q" x="632" y="929"/><text class="s" x="624" y="930.5">Qm = 698</text>
<text class="s" x="668" y="923">สชป. บ้านศาลา</text><use href="#q" x="683" y="929"/><text class="s" x="675" y="930.5">Qm = 631</text>
<text class="s" x="714" y="923">สชป. บ้านดอนกลาง</text><use href="#q" x="734" y="929"/><text class="s" x="726" y="930.5">Qm = 631</text>
<use href="#rt" x="795" y="912"/><text class="s" x="781" y="907">สถานีวัดน้ำ N.59</text>
<use href="#ca2" x="796" y="919"/><text class="r" x="808" y="923.5">CA = 777</text><text class="r" x="798" y="929.5">In = 65.73 / 6.32</text>
<use href="#fdc" x="796" y="932"/><text class="r" x="799" y="936.5">FDC 90% , q = 16,560</text><text class="r" x="799" y="942.5">FDC 80% , q = 17,280</text><text class="r" x="799" y="948.5">FDC 70% , q = 27,648</text><text class="r" x="799" y="954.5">FDC 60% , q = 61,472</text>
<use href="#gate" x="848" y="912"/><text class="s" x="838" y="905">ฝายน้ำปาด</text>

<!-- lower rows -->
<g class="t">
<use href="#q" x="319" y="942"/><text class="s" x="311" y="943.5">Qm = 330</text><text x="343" y="943.5">สชป. บ้านท่าพง</text><use href="#p" x="400" y="942"/>
<use href="#q" x="319" y="952"/><text class="s" x="311" y="953.5">Qm = 823</text><text x="343" y="953.5">สชป. บ้านวังอ้อ</text><use href="#p" x="400" y="952"/>
<use href="#q" x="319" y="962"/><text class="s" x="311" y="963.5">Qm = 530</text><text x="343" y="963.5">สชป. บ้านหัวดอน (แลง)</text><use href="#p" x="400" y="962"/>
<use href="#q" x="319" y="972"/><text class="s" x="311" y="973.5">Qm = 270</text><text x="343" y="973.5">สชป. บ้านหาดเสี้ยว</text><use href="#p" x="400" y="972"/>
<use href="#q" x="319" y="982"/><text class="s" x="310" y="983.5">Qm = 1,186</text><text x="343" y="983.5">สชป. บ้านท่าดี</text><use href="#p" x="400" y="982"/>
<use href="#q" x="319" y="992"/><text class="s" x="311" y="993.5">Qm = 982</text><text x="343" y="993.5">สชป. บ้านดอน</text><use href="#p" x="400" y="992"/>
<use href="#q" x="319" y="1002"/><text class="s" x="311" y="1003.5">Qm = 500</text><text x="343" y="1003.5">สชป. บ้านดอนหัวเมือง</text><use href="#p" x="400" y="1002"/>
<use href="#q" x="319" y="1012"/><text class="s" x="311" y="1013.5">Qm = 802</text><text x="343" y="1013.5">สชป. บ้านวังแดง</text><use href="#p" x="400" y="1012"/>
<use href="#q" x="319" y="1022"/><text class="s" x="311" y="1023.5">Qm = 530</text><text x="343" y="1023.5">สชป. บ้านท่าดี (2)</text><use href="#p" x="400" y="1022"/>
<use href="#q" x="319" y="1032"/><text class="s" x="310" y="1033.5">Qm = 1,138</text><text x="343" y="1033.5">สชป. บ้านแสนตอ</text><use href="#p" x="400" y="1032"/>
<use href="#q" x="319" y="1042"/><text class="s" x="311" y="1043.5">Qm = 668</text><text x="343" y="1043.5">สชป. บ้านน้ำหมัด</text><use href="#p" x="400" y="1042"/>
<use href="#q" x="319" y="1052"/><text class="s" x="311" y="1053.5">Qm = 752</text><text x="343" y="1053.5">สชป. บ้านท่าน</text><use href="#p" x="400" y="1052"/>
<use href="#q" x="319" y="1062"/><text class="s" x="311" y="1063.5">Qm = 862</text><text x="343" y="1063.5">สชป. บ้านคุ้งตะ</text><use href="#p" x="400" y="1062"/>
<use href="#q" x="319" y="1073"/><text class="s" x="311" y="1074.5">Qm = 550</text><text x="343" y="1074.5">สชป. บ้านหาดกรวด</text><use href="#p" x="400" y="1073"/>
</g>
<use href="#gate" x="400" y="1087"/><text class="s" x="408" y="1089">เขื่อนทดน้ำผาจุก</text>
<g class="t">
<use href="#q" x="319" y="1100"/><text class="s" x="311" y="1101.5">Qm = 530</text><text x="343" y="1101.5">สชป. บ้านแสนเชียง</text><use href="#p" x="400" y="1100"/>
<use href="#q" x="319" y="1110"/><text class="s" x="311" y="1111.5">Qm = 802</text><text x="343" y="1111.5">สชป. บ้านเกาะ</text><use href="#p" x="400" y="1110"/>
<use href="#q" x="319" y="1120"/><text class="s" x="311" y="1121.5">Qm = 530</text><text x="343" y="1121.5">สชป. บ้านวังกะ</text><use href="#p" x="400" y="1120"/>
<use href="#q" x="319" y="1131"/><text class="s" x="311" y="1132.5">Qm = 760</text><text x="343" y="1132.5">สชป. บ้านป่าเซ่า</text><use href="#p" x="400" y="1131"/>
<use href="#q" x="319" y="1141"/><text class="s" x="311" y="1142.5">Qm = 693</text><text x="343" y="1142.5">สชป. บ้านหาดงิ้ว (2)</text><use href="#p" x="400" y="1141"/>
<use href="#q" x="319" y="1151"/><text class="s" x="311" y="1152.5">Qm = 660</text><text x="343" y="1152.5">สชป. บ้านหาดงิ้ว</text><use href="#p" x="400" y="1151"/>
<use href="#p" x="400" y="1162"/><text x="408" y="1163.5">กปภ.สาขาอุตรดิตถ์ นะอุตรดิตถ์ (น้ำหน้าน)</text><use href="#q" x="510" y="1162"/><text class="s" x="502" y="1163.5">Qm = 8,600</text>
</g>

<!-- legend -->
<text x="73" y="1208" style="font-size:6.5px;fill:#222">เครื่องหมาย</text>
<line x1="73" y1="1210" x2="107" y2="1210" stroke="#333" stroke-width="0.5"/>
<use href="#gtri" x="87" y="1222"/><text class="s" x="115" y="1224">อ่างเก็บน้ำ / เขื่อน</text>
<line class="ln" x1="72" y1="1236" x2="103" y2="1236"/><text class="s" x="115" y="1237">ลำน้ำ</text>
<line class="ln" x1="72" y1="1248" x2="103" y2="1248"/><use href="#dot" x="88" y="1248"/><text class="s" x="115" y="1249">ทิศทางการไหล</text>
<use href="#rt" x="88" y="1261"/><text class="s" x="115" y="1262">สถานีวัดน้ำ</text>
<line class="ln" x1="72" y1="1273" x2="103" y2="1273"/><use href="#gate" x="88" y="1273"/><text class="s" x="115" y="1274">ฝาย / ประตูระบายน้ำ</text>
<line class="ln" x1="72" y1="1285" x2="103" y2="1285"/><use href="#p" x="88" y="1285"/><text class="s" x="115" y="1286">สถานีสูบน้ำด้วยไฟฟ้า/เพื่อการเกษตร</text>
<use href="#dot" x="88" y="1297"/><text class="s" x="115" y="1298">จุดบรรจบลำน้ำ</text>
<circle cx="88" cy="1310" r="3" fill="#fff" stroke="#333" stroke-width="0.6"/><circle cx="88" cy="1310" r="1.6" fill="#111"/><text class="s" x="115" y="1311">จังหวัด</text>
<circle cx="88" cy="1323" r="3" fill="#fff" stroke="#333" stroke-width="0.6"/><circle cx="88" cy="1323" r="1.7" fill="none" stroke="#333" stroke-width="0.5"/><text class="s" x="115" y="1324">อำเภอ</text>

<use href="#ca3" x="228" y="1217"/><text class="r" x="240" y="1221.5">CA = 67.30</text><text class="r" x="240" y="1227.5">In = 17.44</text><text class="r" x="231" y="1233.5">Capacity = 12.80</text>
<text class="s" x="284" y="1222">CA     =  พื้นที่รับน้ำ, ตร.กม.</text><text class="s" x="284" y="1228">In     =  ปริมาณน้ำท่า, ล้าน ลบ.ม.</text><text class="s" x="284" y="1234">Capacity  =  ความจุอ่างเก็บน้ำ, ล้าน ลบ.ม.</text>
<use href="#ca2" x="228" y="1250"/><text class="r" x="240" y="1254.5">CA = 117,507</text><text class="r" x="230" y="1260.5">In = 8,488.99 / 3,126.97</text>
<text class="s" x="284" y="1255">CA     =  พื้นที่รับน้ำ, ตร.กม.</text><text class="s" x="284" y="1261">In     =  ปริมาณน้ำฤดูฝน / ปริมาณน้ำฤดูแล้ง, ล้าน ลบ.ม.</text>
<use href="#fdc" x="228" y="1278"/><text class="r" x="231" y="1282.5">FDC 90% , q = 4,013,000</text><text class="r" x="231" y="1288.5">FDC 80% , q = 4,771,000</text><text class="r" x="231" y="1294.5">FDC 70% , q = 6,798,000</text><text class="r" x="231" y="1300.5">FDC 60% , q = 9,288,000</text>
<text class="s" x="284" y="1283">FDC   =  Flow Duration Curve</text><text class="s" x="297" y="1289">ข้อมูลแสดงการปล่อยของน้ำ</text><text class="s" x="284" y="1295">q       =  ปริมาณน้ำท่า, ลบ.ม. ต่อวัน</text><text class="s" x="284" y="1301">Qm    =  ความต้องการใช้น้ำสูงสุด, ลบ.ม. ต่อวัน</text><text class="s" x="284" y="1307">Qm    =  กำลังการผลิต, ลบ.ม. ต่อวัน</text>

<!-- maps -->
<rect x="848" y="1198" width="45" height="10" fill="#fff" stroke="#555" stroke-width="0.6"/><text class="s" x="853" y="1205">ดัชนีลุ่มน้ำน่าน</text>
<rect x="823" y="1210" width="70" height="110" fill="#fff" stroke="#777" stroke-width="0.7"/>
<rect x="825" y="1218" width="66" height="100" fill="#fff" stroke="#999" stroke-width="0.4"/>
<text class="s" x="872" y="1216">ประเทศไทย</text>
<path d="M835,1228 C845,1235 850,1230 860,1240 C870,1250 865,1265 870,1275 C860,1290 855,1300 860,1315" fill="none" stroke="#999" stroke-width="0.5"/>
<path d="M850,1240 C860,1245 875,1250 885,1245" fill="none" stroke="#aaa" stroke-width="0.4"/>
<rect x="841" y="1222" width="23" height="20" fill="none" stroke="#222" stroke-width="0.6"/>
<path d="M855,1225 L857,1232 L854,1239 L858,1240" fill="none" stroke="#222" stroke-width="0.6"/>
<rect x="756" y="1253" width="67" height="67" fill="#fff" stroke="#777" stroke-width="0.7"/>
<rect x="758" y="1256" width="63" height="62" fill="#fff" stroke="#999" stroke-width="0.4"/>
<path d="M802,1260 L809,1262 L808,1280 L806,1300 L800,1316 L793,1312 L796,1292 L797,1272 Z" fill="#ccc" stroke="#c66" stroke-width="0.5"/>
<path d="M762,1270 C775,1275 780,1268 790,1280 M765,1295 C775,1290 785,1300 795,1296" fill="none" stroke="#aaa" stroke-width="0.4"/>
<rect x="848" y="1320" width="45" height="9" fill="#fff" stroke="#555" stroke-width="0.6"/><text class="s" x="851" y="1326.5">ผังน้ำเลขที่ 09-14 1/4</text>
<text x="595" y="1328" style="font-size:5.5px;fill:#333">หมายเหตุ : แผนที่ฉบับนี้ทำขึ้นเพื่อใช้สำหรับการกำหนดเขตหรือแนวพรมแดนระหว่างประเทศ</text>

<rect x="51" y="1331" width="50" height="14" fill="#fff" stroke="#555" stroke-width="0.7"/>
<text x="76" y="1341" text-anchor="middle" style="font-size:5.5px">ลุ่มน้ำน่าน</text>
</svg>
</body></html>
